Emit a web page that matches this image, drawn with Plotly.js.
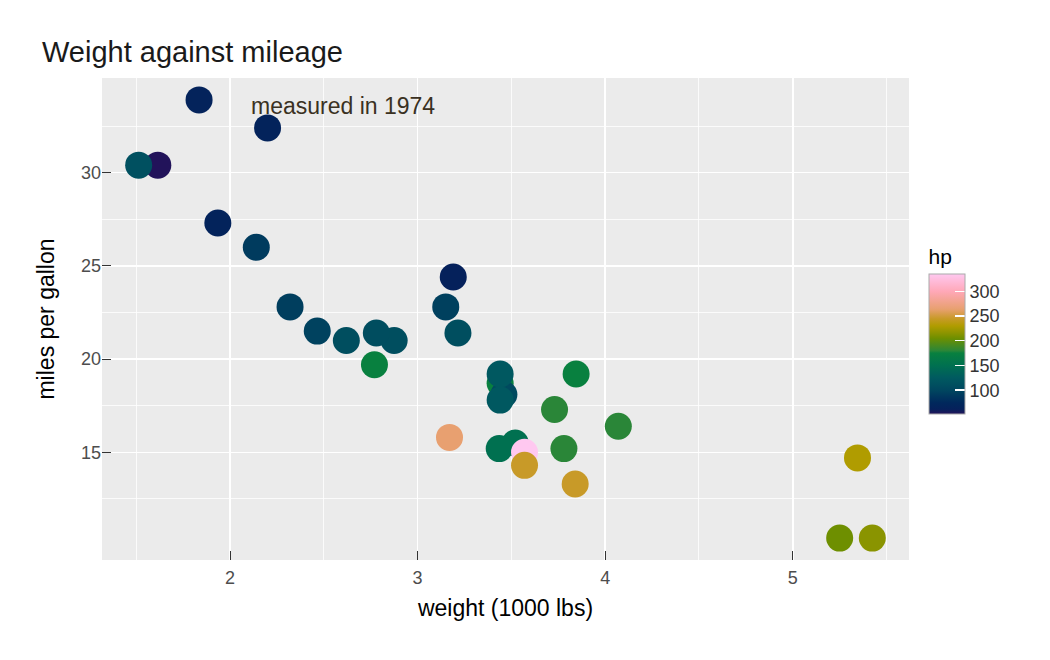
<!DOCTYPE html>
<html>
<head>
<meta charset="utf-8">
<script src="https://cdn.plot.ly/plotly-3.0.1.min.js"></script>
<style>
  html, body { margin: 0; padding: 0; background: #fff; }
  #chart { width: 1050px; height: 660px; }
</style>
</head>
<body>
<div id="chart"></div>
<script>
// mtcars: weight, mileage and horsepower per car
var cars = ['Mazda RX4', 'Mazda RX4 Wag', 'Datsun 710', 'Hornet 4 Drive', 'Hornet Sportabout',
    'Valiant', 'Merc 240D', 'Merc 230', 'Merc 280', 'Merc 280C', 'Merc 450SE',
    'Merc 450SL', 'Merc 450SLC', 'Cadillac Fleetwood', 'Lincoln Continental', 'Chrysler Imperial',
    'Fiat 128', 'Honda Civic', 'Toyota Corolla', 'Toyota Corona', 'Dodge Challenger',
    'AMC Javelin', 'Camaro Z28', 'Pontiac Firebird', 'Fiat X1-9', 'Porsche 914-2',
    'Lotus Europa', 'Ford Pantera L', 'Ferrari Dino', 'Maserati Bora', 'Volvo 142E', 'Duster 360'];
var wt = [2.620, 2.875, 2.320, 3.215, 3.440, 3.460, 3.190, 3.150, 3.440, 3.440, 4.070,
    3.730, 3.780, 5.250, 5.424, 5.345, 2.200, 1.615, 1.835, 2.465, 3.520,
    3.435, 3.840, 3.845, 1.935, 2.140, 1.513, 3.170, 2.770, 3.570, 2.780, 3.570];
var mpg = [21.0, 21.0, 22.8, 21.4, 18.7, 18.1, 24.4, 22.8, 19.2, 17.8, 16.4,
    17.3, 15.2, 10.4, 10.4, 14.7, 32.4, 30.4, 33.9, 21.5, 15.5,
    15.2, 13.3, 19.2, 27.3, 26.0, 30.4, 15.8, 19.7, 15.0, 21.4, 14.3];
var hp = [110, 110, 93, 110, 175, 105, 62, 95, 123, 123, 180,
    180, 180, 205, 215, 230, 66, 52, 65, 97, 150,
    150, 245, 175, 66, 91, 113, 264, 175, 335, 109, 245];

var xTicks = [2, 3, 4, 5];
var xMinor = [1.5, 2.5, 3.5, 4.5, 5.5];
var yTicks = [15, 20, 25, 30];
var yMinor = [12.5, 17.5, 22.5, 27.5, 32.5];
var hpTicks = [100, 150, 200, 250, 300];

var palette = [
    [0.000, '#22135a'],
    [0.035, '#05215b'],
    [0.081, '#00285c'],
    [0.170, '#00465f'],
    [0.258, '#005a60'],
    [0.346, '#007050'],
    [0.435, '#08803f'],
    [0.452, '#2a8638'],
    [0.541, '#6e8f00'],
    [0.576, '#8a9400'],
    [0.629, '#b09c00'],
    [0.682, '#c89a28'],
    [0.749, '#e8a070'],
    [0.876, '#ffa8b8'],
    [1.000, '#ffc8f0']
];

var font = 'Liberation Sans, Arial, Helvetica, sans-serif';

var trace = {
    x: wt,
    y: mpg,
    text: cars,
    mode: 'markers',
    type: 'scatter',
    hoverinfo: 'text',
    marker: {
        size: 27,
        color: hp,
        colorscale: palette,
        cmin: 52,
        cmax: 335,
        line: {width: 0},
        opacity: 1,
        colorbar: {
            title: {text: 'hp', side: 'top', font: {size: 21, color: '#000', family: font}},
            x: 1.0248,
            xanchor: 'left',
            xpad: 0,
            y: 0.303,
            yanchor: 'bottom',
            len: 168,
            lenmode: 'pixels',
            thickness: 36,
            thicknessmode: 'pixels',
            outlinecolor: '#aaaaaa',
            outlinewidth: 1,
            tickvals: hpTicks,
            ticks: 'inside',
            ticklen: 10,
            tickcolor: '#ffffff',
            tickwidth: 1.5,
            ticklabelstandoff: 4,
            tickfont: {size: 18, color: '#333', family: font},
            ypad: 0
        }
    }
};

var layout = {
    width: 1050,
    height: 660,
    margin: {l: 102, r: 141, t: 78, b: 100},
    paper_bgcolor: '#ffffff',
    plot_bgcolor: '#ebebeb',
    font: {family: font, color: '#333'},
    showlegend: false,
    title: {
        text: 'Weight against mileage',
        font: {size: 29, color: '#1a1a1a', family: font},
        xref: 'container',
        x: 0.04,
        xanchor: 'left',
        yref: 'container',
        y: 0.921,
        yanchor: 'middle'
    },
    xaxis: {
        range: [1.3175, 5.6196],
        tickvals: xTicks,
        ticks: 'inside',
        ticklen: 9,
        tickcolor: '#333',
        tickwidth: 1,
        ticklabelstandoff: 5,
        tickfont: {size: 18, color: '#4d4d4d'},
        showgrid: true,
        gridcolor: '#ffffff',
        gridwidth: 1.6,
        zeroline: false,
        showline: false,
        minor: {tickmode: 'array', tickvals: xMinor, showgrid: true, gridcolor: '#ffffff', gridwidth: 0.8},
        title: {text: 'weight (1000 lbs)', font: {size: 23, color: '#000'}, standoff: 12}
    },
    yaxis: {
        range: [9.225, 35.075],
        tickvals: yTicks,
        ticks: 'inside',
        ticklen: 9,
        tickcolor: '#333',
        tickwidth: 1,
        tickfont: {size: 18, color: '#4d4d4d'},
        showgrid: true,
        gridcolor: '#ffffff',
        gridwidth: 1.6,
        zeroline: false,
        showline: false,
        minor: {tickmode: 'array', tickvals: yMinor, showgrid: true, gridcolor: '#ffffff', gridwidth: 0.8},
        title: {text: 'miles per gallon', font: {size: 23, color: '#000'}, standoff: 19}
    },
    annotations: [{
        x: 2.6,
        y: 33.6,
        xref: 'x',
        yref: 'y',
        text: 'measured in 1974',
        showarrow: false,
        font: {size: 23, color: '#3a3122', family: font}
    }]
};

Plotly.newPlot('chart', [trace], layout, {displayModeBar: false, staticPlot: true});
</script>
</body>
</html>
